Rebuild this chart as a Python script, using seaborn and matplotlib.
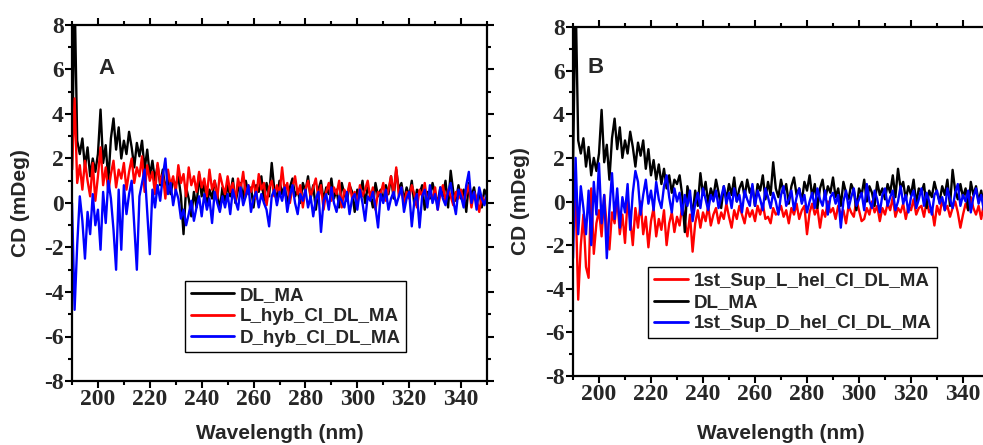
import glob
import numpy as np
import pandas as pd
import matplotlib
matplotlib.use("Agg")
import matplotlib.pyplot as plt
from matplotlib import font_manager
from matplotlib.ticker import MultipleLocator
import seaborn as sns

wavelength = list(range(190, 351))

dl_ma = [
    1.5, 9.5, 2.8, 2.2, 2.9, 1.6, 2.5, 1.2, 2.0, 1.4,
    2.2, 4.2, 1.8, 2.6, 1.0, 2.9, 3.8, 2.4, 3.4, 2.0,
    2.8, 2.2, 3.2, 2.5, 1.6, 2.7, 2.1, 2.8, 1.5, 2.4,
    1.2, 1.9, 1.0, 1.7, 0.8, 1.5, 0.6, 1.2, 0.4, 1.0,
    0.8, 1.2, 0.3, -1.4, 0.7, 0.2, -0.6, 0.5, -0.2, 1.3,
    0.3, 0.9, -0.1, 0.6, 0.2, 1.0, 0.4, -0.3, 0.7, 0.1,
    0.8, 0.3, 1.1, 0.0, 0.6, 0.9, 0.2, 1.0, 0.4, 0.7,
    -0.2, 0.8, 0.5, 1.2, 0.1, 0.9, 0.3, 1.8, 0.6, 0.2,
    1.0, 0.4, 0.8, -0.1, 0.7, 1.1, 0.3, 0.6, 0.0, 0.9,
    0.5, 1.2, 0.2, 0.8, -0.3, 0.6, 1.0, 0.1, 0.7, 0.4,
    1.1, 0.2, 0.6, -0.2, 0.9, 0.4, 0.1, 0.8, 0.5, -0.4,
    0.6, 0.3, 1.0, 0.0, 0.7, 0.4, -0.2, 0.9, 0.3, 0.6,
    0.1, 0.8, 0.4, 1.2, 0.2, 1.5, 0.6, 0.9, 0.1, 0.7,
    0.3, 1.0, -0.1, 0.6, 0.4, 0.8, -0.3, 0.5, 0.2, 0.9,
    0.4, 0.0, 0.7, 0.3, 1.0, -0.2, 1.45, 0.5, 0.1, 0.8,
    0.2, 0.6, -0.4, 0.9, 0.3, 0.7, 0.0, 0.5, -0.2, 0.6,
    0.3,
]

l_hyb = [
    1.5, 4.7, 0.9, 1.7, 0.6, 1.9, 1.0, 0.3, 1.8, 0.1,
    1.2, 2.5, 0.8, 1.6, 0.5, 1.3, 1.9, 0.7, 1.5, 1.1,
    1.8, 0.6, 1.4, 2.0, 0.9, 1.6, 1.2, 2.1, 0.5, 1.7,
    1.0, 1.4, 0.4, 1.8, 0.9, 1.3, 0.2, 1.5, 0.8, 1.2,
    0.5, 1.7, 0.9, 1.3, 0.3, 1.6, 0.8, 1.2, 0.5, 1.4,
    0.7, 1.1, 0.3, 1.5, 0.6, 1.0, 0.2, 1.3, 0.8, 0.4,
    1.2, 0.5, 0.9, 0.1, 1.1, 0.6, 1.4, 0.3, 0.8, 0.5,
    1.0, 0.2, 1.3, 0.6, 0.9, -0.1, 0.7, 1.0, 0.3, 0.8,
    0.4, 1.6, 0.5, 0.9, 0.0, 0.7, 1.2, 0.4, 0.8, -0.2,
    0.6, 1.0, 0.3, 0.7, 1.1, 0.2, 0.8, -0.3, 0.5, 0.9,
    0.1, 0.7, 0.4, 1.0, -0.2, 0.6, 0.3, 0.9, 0.2, 0.5,
    -0.1, 0.8, 0.3, 0.6, 1.0, 0.2, 0.7, -0.3, 0.5, 0.4,
    0.9, 0.1, 0.6, 1.2, 0.4, 1.6, 0.3, 0.7, -0.1, 0.5,
    0.2, 0.8, 0.4, -0.2, 0.6, 0.3, 0.9, 0.0, 0.5, 0.2,
    0.7, -0.3, 0.4, 0.8, 0.1, 0.6, 0.3, -0.1, 0.5, 0.2,
    0.6, 0.0, 0.4, 0.8, -0.2, 0.5, 0.2, -0.4, 0.3, 0.1,
    0.2,
]

d_hyb = [
    0.0, -4.8, -1.9, 0.3, -0.8, -2.5, -0.4, -1.4, 0.4, -1.0,
    -0.3, -2.1, 0.5, -0.9, 1.0, 0.2, -1.2, -3.0, 0.6, -2.1,
    0.8, -0.5, 0.4, 1.0, -1.0, -3.0, 0.3, 0.9, 1.5, -0.4,
    -2.3, 0.6, -0.2, 0.8, 0.1, 1.2, 2.0, 0.4, 0.9, -0.1,
    0.6, 0.2, -0.7, -0.3, -1.0, -0.5, 0.1, -0.8, -0.2, 0.3,
    -0.6, 0.4, -0.3, 0.2, -0.9, 0.5, 0.0, -0.4, 0.3, -0.2,
    0.4, -0.5, 0.6, 0.1, -0.3, 0.7, -0.1, 0.3, 0.8, -0.4,
    0.2, 0.5, -0.2, 0.4, 0.0, -0.3, -1.05, 0.3, 0.6, -0.1,
    0.5, 0.1, 0.7, -0.4, 0.3, 0.8, 0.0, -0.5, 0.4, 0.1,
    0.6, -0.2, 0.3, -0.6, 0.2, 0.5, -1.3, 0.1, 0.4, -0.3,
    0.7, 0.0, -0.4, 0.3, 0.1, -0.2, 0.5, -0.5, 0.2, 0.4,
    -0.3, 0.6, 0.0, -0.8, 0.3, 0.1, 0.5, -0.2, -1.1, 0.4,
    0.0, 0.6, -0.3, 0.2, 0.5, -0.1, 0.3, 0.7, -0.4, 0.2,
    0.5, -1.05, 0.1, 0.4, -1.1, 0.3, 0.6, -0.2, 0.8, 0.0,
    0.4, -0.3, 0.7, 0.2, -0.1, 0.5, 0.9, 0.1, -0.5, 0.6,
    0.3, -0.2, 0.8, 1.4, 0.0, 0.5, -0.3, 0.7, 0.2, -0.1,
    0.4,
]

sup_l_hel = [
    1.5, 0.2, -4.5, -2.0, -0.6, -3.0, -3.5, 0.6, -2.4, -1.0,
    -0.4, -1.6, 0.3, -1.2, -2.2, -0.5, -1.0, 0.2, -1.5, -0.6,
    -1.9, 0.1, -0.8, -2.0, -0.3, -1.2, 0.0, -1.5, -0.7, -2.1,
    -0.9, -0.3, -1.6, -0.8, -1.3, -0.4, -2.0, -1.0, -0.5, -1.4,
    -0.7, -1.1, -0.2, -0.9, -1.6, -0.6, -2.3, -1.0, -0.4, -1.2,
    -0.5, -0.9, -0.2, -1.1, -0.6, -0.3, -1.0, -0.5, -0.8, -0.1,
    -0.7, -1.2, -0.4, -0.8, -0.2, -0.6, -1.0, -0.3, -0.7, -0.4,
    -0.9, -0.2, -0.6, -0.1, -0.8, -0.7, -1.0, -0.3, -0.6, -0.5,
    -0.2, -0.7, -0.4, -1.0, -0.3, -0.6, -0.1, -0.8, -0.4, -0.2,
    -1.5, -0.5, -0.1, -0.6, -0.3, -1.2, -0.4, -0.7, 0.0, -0.5,
    -0.3, -0.8, -0.2, -0.6, -0.4, -1.0, -0.2, -0.5, -0.7, 0.1,
    -0.4, -0.9, -0.8, -0.3, -0.6, 0.0, -0.5, -0.2, -0.9, -0.3,
    -0.6, -0.1, -0.4, 0.2, -0.7, -0.3, -0.5, -0.1, -0.8, -0.2,
    -0.4, 0.1, -0.6, -0.3, -0.2, -0.7, 0.0, -0.5, -0.3, -1.1,
    -0.2, -0.6, 0.1, -0.4, -0.2, -0.7, -0.3, 0.0, -0.5, -1.2,
    -0.6, -0.1, -0.4, 0.2, -0.3, -0.6, -0.2, -0.8, -0.1, -0.4,
    -0.3,
]

sup_d_hel = [
    -2.6, 2.0, -1.5, 0.7, -0.3, -1.5, 0.5, -2.0, 0.9, -0.6,
    1.75, -1.0, 0.3, -2.6, -0.4, 1.3, -0.8, 0.6, -1.2, 0.2,
    -0.5, 0.8, -1.3, 0.4, 1.4, 0.9, -0.6, 0.3, 1.0, -0.1,
    0.5, -0.4, 0.9, 0.1, -0.3, 0.7, 1.2, 0.2, -0.5, 0.6,
    0.0, 0.4, -0.6, 0.3, -0.2, 0.5, -0.9, -0.1, 0.4, -0.3,
    0.6, 0.1, -0.4, 0.3, 0.0, 0.5, -0.3, 0.2, 0.7, -0.1,
    0.4, -0.3, 0.6, 0.0, 0.3, -0.5, 0.5, 0.1, -0.2, 0.8,
    -0.2, 0.5, 0.1, -0.4, 0.6, 0.2, -0.3, 0.4, 0.0, -0.6,
    0.3, 0.7, -0.2, 0.1, 0.5, -0.4, 0.2, 0.6, -0.1, 0.3,
    -0.5, 0.0, 0.4, -0.3, 0.6, 0.1, -0.2, 0.5, -0.6, 0.2,
    0.4, -0.1, 0.3, -1.2, 0.0, 0.5, -0.3, 0.2, 0.6, -0.2,
    0.1, 0.4, -0.4, 0.8, 0.0, -0.3, 0.5, 0.1, -0.5, 0.3,
    0.6, -0.2, 0.2, 0.5, -0.4, 0.0, 0.7, -0.1, 0.3, -0.5,
    0.2, 0.5, -0.3, 0.1, 0.6, -0.2, 0.4, 0.0, -0.6, 0.3,
    0.5, -0.1, 0.2, -0.4, 0.6, 0.1, -0.3, 0.4, 0.8, -0.2,
    0.3, 0.0, 0.5, -0.5, 0.2, 0.6, -0.1, 0.3, -0.4, 0.4,
    0.1,
]

x_ticks = [200, 220, 240, 260, 280, 300, 320, 340]
y_ticks = [-8, -6, -4, -2, 0, 2, 4, 6, 8]

sns.set_style("ticks")
plt.rcParams["font.family"] = ["Liberation Sans", "DejaVu Sans"]
plt.rcParams["axes.unicode_minus"] = False

# locate a bold Times-like serif font file for the tick labels
serif_files = []
for pat in ["LiberationSerif-Bold.ttf", "LiberationSerif-Bold*", "*Serif*Bold.ttf", "NimbusRoman-Bold*", "DejaVuSerif-Bold.ttf"]:
    serif_files += glob.glob("/usr/share/fonts/**/" + pat, recursive=True)
    serif_files += glob.glob("/usr/local/share/fonts/**/" + pat, recursive=True)
    serif_files += glob.glob("/usr/**/fonts/**/" + pat, recursive=True)
    if serif_files:
        break
if serif_files:
    tick_fp = font_manager.FontProperties(fname=serif_files[0], size=17)
else:
    tick_fp = font_manager.FontProperties(family="serif", weight="bold", size=17)

df = pd.DataFrame({
    "wl": wavelength,
    "DL_MA": dl_ma,
    "L_hyb_Cl_DL_MA": l_hyb,
    "D_hyb_Cl_DL_MA": d_hyb,
    "1st_Sup_L_hel_Cl_DL_MA": sup_l_hel,
    "1st_Sup_D_hel_Cl_DL_MA": sup_d_hel,
})

fig = plt.figure(figsize=(9.83, 4.45), dpi=100)
axA = fig.add_axes([72 / 983, 1 - 381 / 445, (487 - 72) / 983, (381 - 25) / 445])
axB = fig.add_axes([573 / 983, 1 - 376 / 445, (989 - 573) / 983, (376 - 27) / 445])

lw = 1.7
sns.lineplot(data=df, x="wl", y="DL_MA", color="black", lw=lw, ax=axA, label="DL_MA")
sns.lineplot(data=df, x="wl", y="L_hyb_Cl_DL_MA", color="#ff0000", lw=lw, ax=axA, label="L_hyb_Cl_DL_MA")
sns.lineplot(data=df, x="wl", y="D_hyb_Cl_DL_MA", color="#0000ff", lw=lw, ax=axA, label="D_hyb_Cl_DL_MA")

sns.lineplot(data=df, x="wl", y="1st_Sup_L_hel_Cl_DL_MA", color="#ff0000", lw=lw, ax=axB, label="1st_Sup_L_hel_Cl_DL_MA")
sns.lineplot(data=df, x="wl", y="DL_MA", color="black", lw=lw, ax=axB, label="DL_MA")
sns.lineplot(data=df, x="wl", y="1st_Sup_D_hel_Cl_DL_MA", color="#0000ff", lw=lw, ax=axB, label="1st_Sup_D_hel_Cl_DL_MA")

panels = [
    (axA, "A", 0.064, 0.879, (0.272, 0.081), 2.3, -0.101, -0.122),
    (axB, "B", 0.036, 0.883, (0.18, 0.109), 1.85, -0.103, -0.138),
]
for ax, letter, lx, ly, leg_anchor, hl, ylab_x, xlab_y in panels:
    ax.set_xlim(190, 350)
    ax.set_ylim(-8, 8)
    ax.set_xticks(x_ticks)
    ax.set_yticks(y_ticks)
    ax.set_xticklabels([str(v) for v in x_ticks], fontproperties=tick_fp)
    ax.set_yticklabels([str(v) for v in y_ticks], fontproperties=tick_fp)
    ax.xaxis.set_minor_locator(MultipleLocator(10))
    ax.yaxis.set_minor_locator(MultipleLocator(1))
    ax.tick_params(which="both", direction="out", top=True, right=True, width=1.5,
                   color="black", pad=1)
    ax.tick_params(which="major", length=5)
    ax.tick_params(which="minor", length=3)
    for s in ax.spines.values():
        s.set_visible(True)
        s.set_linewidth(1.6)
        s.set_color("black")
    ax.set_xlabel("Wavelength (nm)", fontsize=15, fontweight="bold")
    ax.set_ylabel("CD (mDeg)", fontsize=15, fontweight="bold")
    ax.xaxis.set_label_coords(0.5, xlab_y)
    ax.yaxis.set_label_coords(ylab_x, 0.5)
    ax.text(lx, ly, letter, transform=ax.transAxes,
            fontsize=16, fontweight="bold", ha="left", va="center")
    leg = ax.legend(loc="lower left", bbox_to_anchor=leg_anchor, frameon=True, fancybox=False,
                    fontsize=13.5, handlelength=hl, handletextpad=0.3, borderpad=0.3,
                    labelspacing=0.22, borderaxespad=0)
    leg.get_frame().set_edgecolor("black")
    leg.get_frame().set_linewidth(1.0)
    leg.get_frame().set_alpha(1)
    for t in leg.get_texts():
        t.set_fontweight("bold")
    for h in leg.get_lines():
        h.set_linewidth(2.0)

fig.savefig("out.png", dpi=100)
